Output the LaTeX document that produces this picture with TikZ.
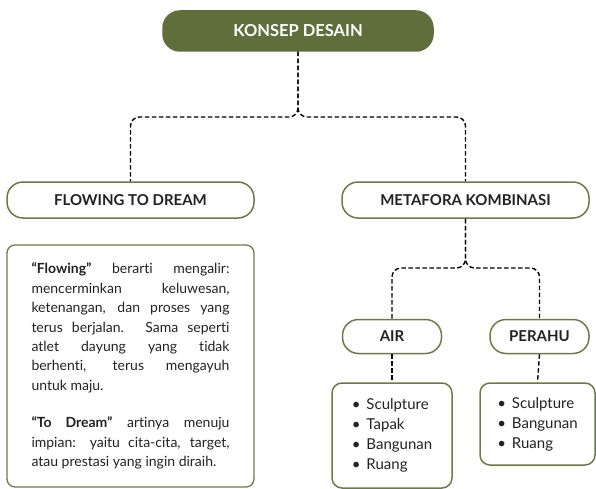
\documentclass[tikz,border=0pt]{standalone}
\usepackage{fontspec}
\setmainfont{Lato}[Ligatures={NoCommon,NoRare}]
\usepackage{xcolor}
\usepackage{tikz}
\definecolor{leafgreen}{HTML}{5F6E3A}
\definecolor{leafline}{HTML}{6B7B45}
\definecolor{ink}{HTML}{222222}
\tikzset{
	main node/.style={rectangle,draw=leafline,line width=1.5pt,rounded corners=16pt,
		minimum width=247pt,minimum height=36pt,inner sep=0pt,text=ink,
		font=\bfseries\fontsize{15}{18}\selectfont},
	title node/.style={main node,draw=leafgreen,fill=leafgreen,text=white,
		rounded corners=17pt,minimum width=270pt,minimum height=40pt,
		font=\bfseries\fontsize{16.5}{19}\selectfont},
	text box/.style={rectangle,draw=leafline,line width=1.3pt,rounded corners=8pt,
		text width=198pt,inner xsep=24.5pt,minimum height=242pt,align=justify,text=ink,
		font=\fontsize{14}{19.4}\selectfont},
	list box/.style={rectangle,draw=leafline,line width=1.5pt,rounded corners=10pt,
		minimum width=120pt,align=left,text=ink,font=\fontsize{15}{20}\selectfont},
	link/.style={draw=black,line width=1.4pt,dash pattern=on 4.5pt off 2.5pt,rounded corners=9pt}
}

\begin{document}
\begin{tikzpicture}[x=1pt,y=-1pt]
	\useasboundingbox (0,0) rectangle (596,489);
	\node [title node] (konsep) at (298,31) {KONSEP DESAIN};
	\node [main node] (flowing) at (130.5,200) {FLOWING TO DREAM};
	\node [main node] (metafora) at (465.5,200) {METAFORA KOMBINASI};
	\node [main node,minimum width=99pt,minimum height=34pt] (air) at (392,336.5) {AIR};
	\node [main node,minimum width=99pt,minimum height=34pt] (perahu) at (539.5,336.5) {PERAHU};
	\node [text box] (arti) at (130.5,366) {\hyphenpenalty=10000
		\textbf{“Flowing”} berarti mengalir:\linebreak
		mencerminkan keluwesan,\linebreak
		ketenangan, dan proses yang\linebreak
		terus berjalan. Sama seperti\linebreak
		atlet dayung yang tidak\linebreak
		berhenti, terus mengayuh\linebreak
		untuk maju.\par\vspace{18pt}
		\textbf{“To Dream”} artinya menuju\linebreak
		impian: yaitu cita-cita, target,\linebreak
		atau prestasi yang ingin diraih.};
	\node [list box,minimum height=105pt] (airlist) at (392,435.5)
		{\textbullet\hspace{6pt}Sculpture\\ \textbullet\hspace{6pt}Tapak\\
		\textbullet\hspace{6pt}Bangunan\\ \textbullet\hspace{6pt}Ruang};
	\node [list box,minimum width=115pt,minimum height=82pt] (perahulist) at (537.5,424)
		{\textbullet\hspace{6pt}Sculpture\\ \textbullet\hspace{6pt}Bangunan\\
		\textbullet\hspace{6pt}Ruang};
	\coordinate (split1) at (298,117);
	\coordinate (split2) at (465.5,268);
	\draw [link] (konsep.south) -- (split1) -| (flowing.north);
	\draw [link] (konsep.south) -- (split1) -| (metafora.north);
	\draw [link] (metafora.south) -- (split2) -| (air.north);
	\draw [link] (metafora.south) -- (split2) -| (perahu.north);
	\draw [link] (air.south) -- (airlist.north);
	\draw [link] (perahu.south) -- (perahulist.north);
\end{tikzpicture}
\end{document}
